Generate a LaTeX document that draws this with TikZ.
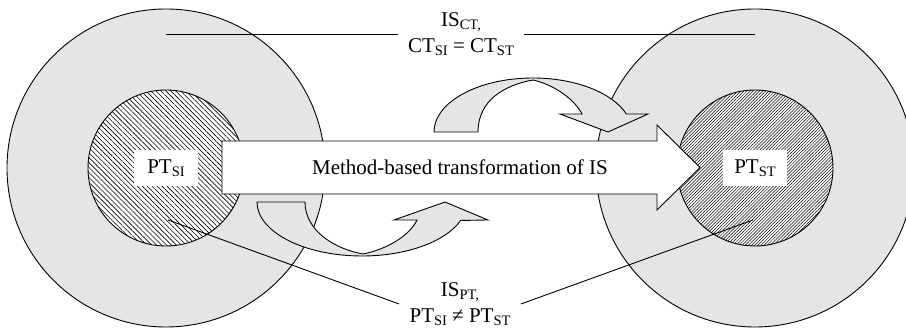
\documentclass[tikz,border=0pt]{standalone}
\usepackage{fontspec}
\setmainfont{Liberation Serif}
\usetikzlibrary{patterns.meta}

\newcommand{\lowidx}[1]{\raisebox{-3.5pt}{\fontsize{14.5}{14.5}\selectfont #1}}

\tikzset{%
  every ring/.style={
    circle,
    draw,
    fill=gray!20,
    minimum size=318pt,
    inner sep=0pt
  },
  every core/.style={
    circle,
    draw,
    preaction={fill=white},
    minimum size=156pt,
    inner sep=0pt
  },
  core SI/.style={
    pattern={Lines[angle=-45, distance=3.5pt, line width=0.6pt]}
  },
  core ST/.style={
    pattern={Lines[angle=45, distance=2.2pt, line width=0.5pt]}
  },
  pt box/.style={
    fill=white,
    minimum width=64pt,
    minimum height=36pt
  },
  turn arrow/.style={
    draw,
    fill=gray!20
  },
}

\begin{document}
\begin{tikzpicture}[x=1pt, y=1pt, line width=0.9pt,
  every node/.style={font=\fontsize{21}{26}\selectfont}]

\useasboundingbox (0,0) rectangle (906,331);

\foreach \m/\x in {SI/166, ST/755}
  \node [every ring/.try] (ring-\m) at (\x,163) {};

\foreach \m in {SI, ST}
  \node [every core/.try, core \m/.try] (core-\m) at (ring-\m) {};

\foreach \m in {SI, ST}
  \node [pt box] (pt-\m) at (core-\m) {PT\lowidx{\m}};

% turn above
\draw [turn arrow] (434,199) arc [start angle=180, end angle=19.5, x radius=99, y radius=54]
  -- (648,217) -- (608,199) -- (560,217) -- (582,217)
  .. controls (575,231) and (555,246) .. (533,251)
  .. controls (505,246) and (478,231) .. (478,199) -- cycle;

% turn below
\draw [turn arrow] (257,129) arc [start angle=180, end angle=340, x radius=105, y radius=54]
  -- (488,111) -- (445,129) -- (394,111) -- (417,111)
  .. controls (410,96) and (388,82) .. (363,77)
  .. controls (335,82) and (305,100) .. (305,129) -- cycle;

% main arrow
\draw [fill=white] (222,137) -- (657,137) -- (657,121) -- (700,163.5)
  -- (657,206) -- (657,190) -- (222,190) -- cycle;
\node (trans) at (460,163.5) {Method-based transformation of IS};

\node [align=center, inner sep=10pt] (ct) at (461,297)
  {IS\lowidx{CT,}\\CT\lowidx{SI} = CT\lowidx{ST}};
\node [align=center, inner sep=10pt] (pt) at (460,27)
  {IS\lowidx{PT,}\\PT\lowidx{SI} ≠ PT\lowidx{ST}};

\coordinate (pt-end-SI) at (168,111);
\coordinate (pt-end-ST) at (753,111);

\draw (ct.west) -- (ct.west -| ring-SI);
\draw (ct.east) -- (ct.east -| ring-ST);
\draw (pt.west) -- (pt-end-SI);
\draw (pt.east) -- (pt-end-ST);

\end{tikzpicture}
\end{document}
